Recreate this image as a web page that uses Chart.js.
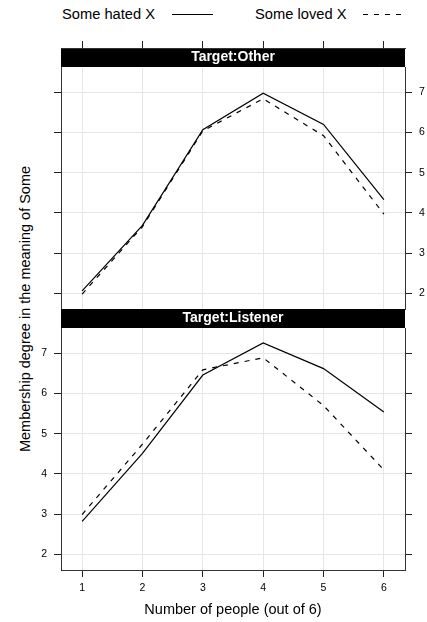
<!DOCTYPE html>
<html>
<head>
<meta charset="utf-8">
<script src="https://cdn.jsdelivr.net/npm/chart.js@4/dist/chart.umd.min.js"></script>
<style>
  body { margin: 0; background: #fff; }
  #wrap { position: relative; width: 427px; height: 622px; font-family: "Liberation Sans", Arial, sans-serif; color: #000; }
  canvas { position: absolute; left: 0; }
  #c1 { top: 0; }
  #c2 { top: 309px; }
  .leg { position: absolute; top: 5px; font-size: 14.7px; line-height: 18px; white-space: nowrap; }
  .legline { position: absolute; top: 0; }
  #ytitle { position: absolute; left: 25px; top: 309px; font-size: 14.5px; line-height: 18px; white-space: nowrap;
            transform: translate(-50%, -50%) rotate(-90deg); }
</style>
</head>
<body>
<div id="wrap">
  <div class="leg" style="left:62px">Some hated X</div>
  <svg class="legline" width="427" height="30">
    <line x1="172" y1="14.5" x2="213" y2="14.5" stroke="#000" stroke-width="1.2"/>
    <line x1="363" y1="14.5" x2="404" y2="14.5" stroke="#000" stroke-width="1.2" stroke-dasharray="5 6"/>
  </svg>
  <div class="leg" style="left:255px">Some loved X</div>
  <div id="ytitle">Membership degree in the meaning of Some</div>
  <canvas id="c1" width="427" height="310"></canvas>
  <canvas id="c2" width="427" height="313"></canvas>
</div>
<script>
// data
const people = [1, 2, 3, 4, 5, 6];
const panels = ["Target:Other", "Target:Listener"];
const otherHated = [2.06, 3.69, 6.07, 6.98, 6.20, 4.33];
const otherLoved = [1.98, 3.66, 6.04, 6.84, 5.92, 3.97];
const listenerHated = [2.82, 4.51, 6.46, 7.26, 6.62, 5.54];
const listenerLoved = [2.99, 4.74, 6.59, 6.89, 5.70, 4.10];
const seriesNames = ["Some hated X", "Some loved X"];

const FONT = '"Liberation Sans", Arial, sans-serif';
const GRID = '#e6e6e6';
const TICK = '#222';
const BORDER = '#333';
const xMin = 0.65, xMax = 6.35;
const yMin = 1.61, yMax = 7.63;

function pts(vals) {
    return people.map((p, i) => ({ x: p, y: vals[i] }));
}

function datasets(hated, loved) {
    return [
        { label: seriesNames[0], data: pts(hated), borderColor: '#000', borderWidth: 1.2, pointRadius: 0, tension: 0 },
        { label: seriesNames[1], data: pts(loved), borderColor: '#000', borderWidth: 1.2, borderDash: [5, 6], pointRadius: 0, tension: 0 }
    ];
}

// keep the panel boxes where they are: no extra room for half labels
function noPad(s) {
    s.paddingTop = 0;
    s.paddingBottom = 0;
    s.paddingLeft = 0;
    s.paddingRight = 0;
}

function stripScale(text) {
    return {
        type: 'linear',
        position: 'top',
        weight: 0,
        backgroundColor: '#000',
        grid: { display: false },
        border: { display: false },
        ticks: { display: false },
        title: { display: true, text: text, color: '#fff', font: { family: FONT, size: 14, weight: 'bold' }, padding: { top: 1, bottom: 1 } },
        afterFit: s => { s.height = 19; noPad(s); }
    };
}

function yScale(position, labels, gridOn, width) {
    return {
        type: 'linear',
        position: position,
        min: yMin,
        max: yMax,
        grid: { display: true, drawOnChartArea: gridOn, color: GRID, tickLength: 7, tickColor: TICK },
        border: { display: true, color: BORDER },
        ticks: { display: labels, stepSize: 1, includeBounds: false, padding: 7, color: '#000', font: { family: FONT, size: 10.5 } },
        afterFit: s => { s.width = width; noPad(s); }
    };
}

const common = {
    responsive: false,
    animation: false,
    plugins: { legend: { display: false }, tooltip: { enabled: false } }
};

// top panel
new Chart(document.getElementById('c1'), {
    type: 'line',
    data: { datasets: datasets(otherHated, otherLoved) },
    options: {
        ...common,
        layout: { padding: { top: 41, left: 54, right: 0, bottom: 1 } },
        scales: {
            x: {
                type: 'linear',
                position: 'top',
                weight: 10,
                min: xMin,
                max: xMax,
                grid: { display: true, color: GRID, tickLength: 7, tickColor: TICK },
                border: { display: true, color: BORDER },
                ticks: { display: false, stepSize: 1, includeBounds: false },
                afterFit: s => { s.height = 7; noPad(s); }
            },
            strip: stripScale(panels[0]),
            y: yScale('left', false, true, 7),
            yR: yScale('right', true, false, 22)
        }
    }
});

// bottom panel
new Chart(document.getElementById('c2'), {
    type: 'line',
    data: { datasets: datasets(listenerHated, listenerLoved) },
    options: {
        ...common,
        layout: { padding: { top: 0, left: 0, right: 15, bottom: 0 } },
        scales: {
            x: {
                type: 'linear',
                position: 'bottom',
                min: xMin,
                max: xMax,
                grid: { display: true, color: GRID, tickLength: 7, tickColor: TICK },
                border: { display: true, color: BORDER },
                ticks: { stepSize: 1, includeBounds: false, padding: 5, color: '#000', font: { family: FONT, size: 10.5 } },
                title: { display: true, text: 'Number of people (out of 6)', color: '#000', font: { family: FONT, size: 14.5 }, padding: { top: 0, bottom: 3 } },
                afterFit: s => { s.height = 52; noPad(s); }
            },
            strip: stripScale(panels[1]),
            y: yScale('left', true, true, 61),
            yR: yScale('right', false, false, 7)
        }
    }
});
</script>
</body>
</html>
